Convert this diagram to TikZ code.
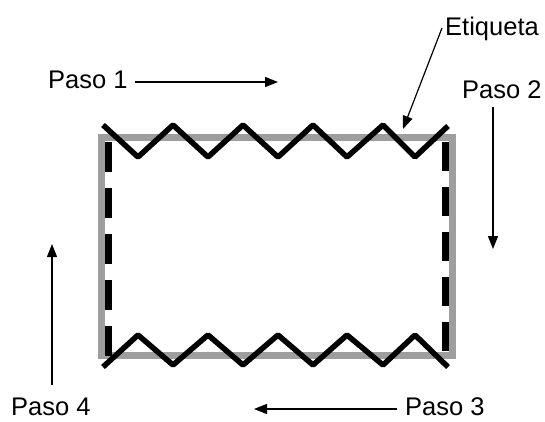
\documentclass[tikz,border=0pt]{standalone}
\usepackage{fontspec}
\setmainfont{Liberation Sans}
\usetikzlibrary{arrows.meta}
\begin{document}
\begin{tikzpicture}[x=1pt,y=-1pt,
  lbl/.style={anchor=base west,inner sep=0pt,font=\fontsize{25.5}{30}\selectfont},
  arr/.style={line width=1.2pt,-{Triangle[length=13pt,width=10pt]}},
  grayframe/.style={draw=black!38,line width=7pt},
  dashline/.style={draw=black,line width=7pt,dash pattern=on 30pt off 16pt},
  zig/.style={draw=black,line width=5.5pt,line join=bevel}]
\useasboundingbox (0,0) rectangle (545,421);
\fill[white] (0,0) rectangle (545,421);
% gray frame
\draw[grayframe] (101,137) rectangle (452.5,355);
% dashed sides
\draw[dashline] (108.5,142) -- (108.5,358);
\draw[dashline,dash pattern=on 29pt off 16pt] (445.5,142) -- (445.5,351);
% zigzags
\draw[zig] (103,125) -- (138,157) -- (173,125) -- (208,157) -- (243,125) -- (278,157)
  -- (313,125) -- (347,157) -- (383,125) -- (415,157) -- (448,126);
\draw[zig] (103,367) -- (138,335) -- (173,365) -- (208,335) -- (243,365) -- (278,335)
  -- (313,365) -- (347,335) -- (383,365) -- (415,335) -- (448,367);
% labels
\node[lbl] (p1) at (48,88) {Paso 1};
\node[lbl] (et) at (445,35) {Etiqueta};
\node[lbl] (p2) at (462,98) {Paso 2};
\node[lbl] (p4) at (11,415) {Paso 4};
\node[lbl] (p3) at (405,415) {Paso 3};
% arrow ends
\coordinate (a1s) at (135,82);
\coordinate (a1e) at (278,82);
\coordinate (ets) at (442,28);
\coordinate (ete) at (403,129);
\coordinate (a2s) at (493,107);
\coordinate (a2e) at (493,249);
\coordinate (a3s) at (397,409);
\coordinate (a3e) at (254,409);
\coordinate (a4s) at (52,385);
\coordinate (a4e) at (52,244);
\draw[arr] (a1s) -- (a1e);
\draw[arr] (ets) -- (ete);
\draw[arr] (a2s) -- (a2e);
\draw[arr] (a3s) -- (a3e);
\draw[arr] (a4s) -- (a4e);
\end{tikzpicture}
\end{document}
